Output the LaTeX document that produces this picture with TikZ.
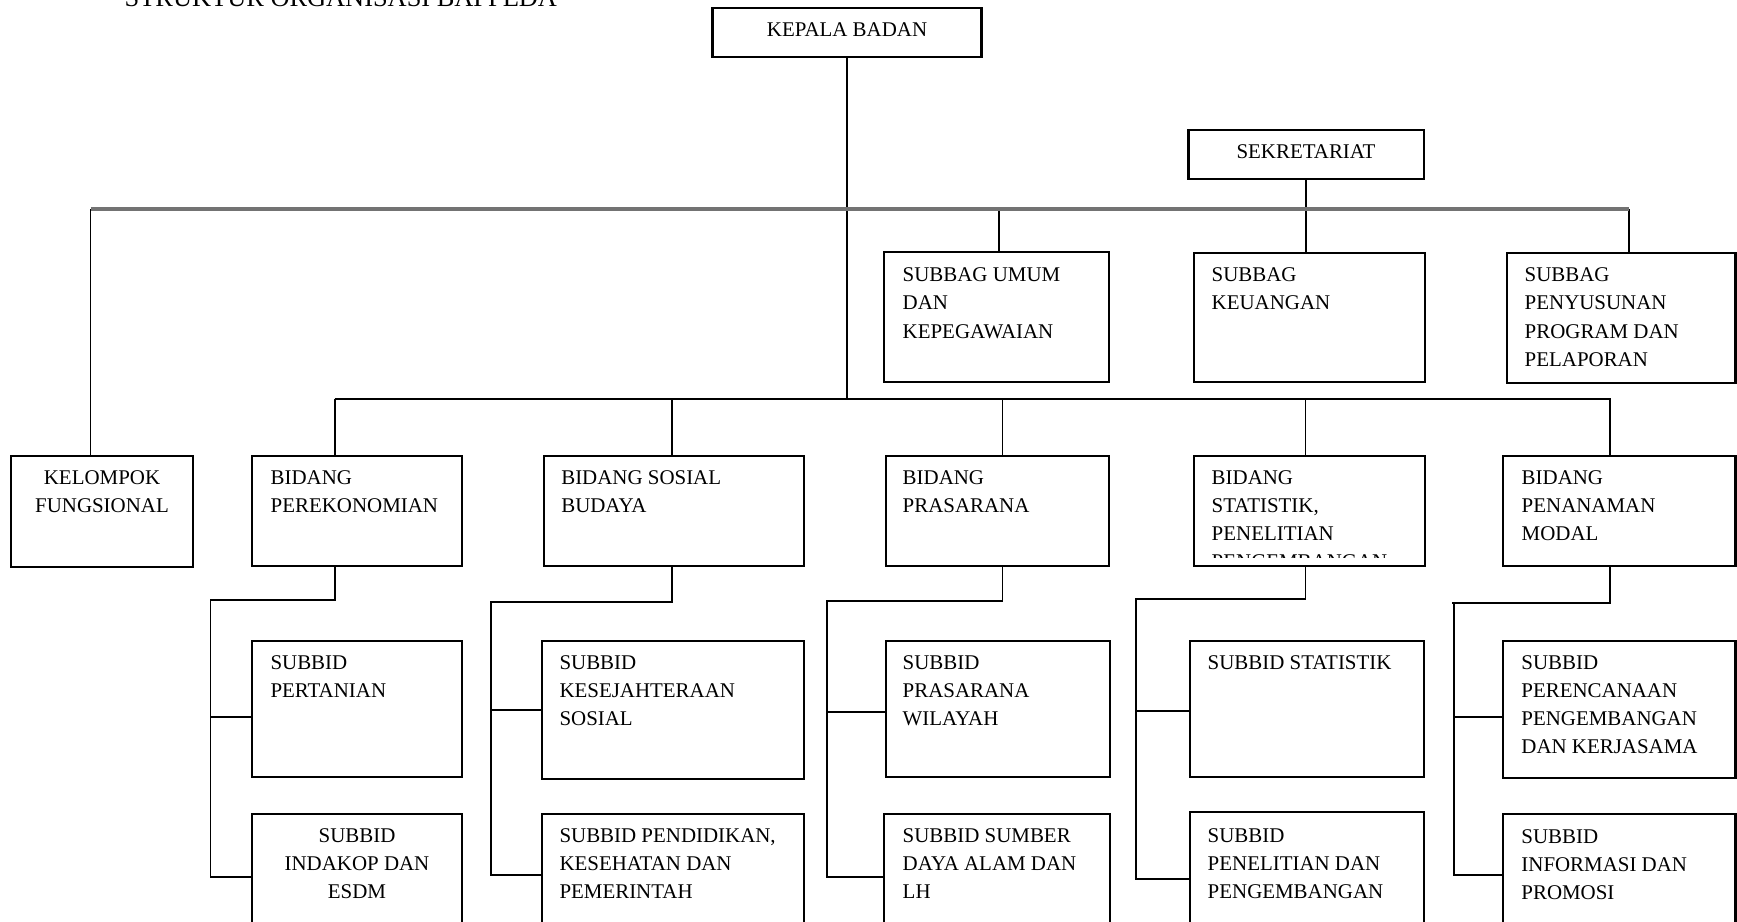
\documentclass[tikz,border=0pt]{standalone}
\usepackage{fontspec}
\setmainfont{Liberation Serif}
\newcommand\bx[5]{\node[box, minimum width={(#4-#2)*0.01cm}, minimum height={(#5-#3)*0.01cm}] (#1) at ({(#2+#4)/2},{(#3+#5)/2}) {};}
\begin{document}
\begin{tikzpicture}[x=0.01cm,y=-0.01cm,
  box/.style={draw, line width=0.6pt, rectangle, inner sep=0pt, outer sep=0pt},
  txt/.style={inner sep=0pt, font=\fontsize{5.95}{8.02}\selectfont},
  lft/.style={txt, align=left, anchor=base west},
  ctr/.style={txt, align=center, anchor=base},
  conn/.style={line width=0.5pt},
  mainline/.style={line width=1pt, draw=black!55}]
\clip (0,0) rectangle (1737,921);
\node[inner sep=0pt, font=\fontsize{7.5}{9}\selectfont, anchor=base west] (title) at (124,6) {STRUKTUR ORGANISASI BAPPEDA};

% boxes
\bx{kb}{712.5}{8.3}{981.5}{57}
\bx{sek}{1188.5}{130}{1424}{179}
\bx{sumum}{884}{251.7}{1109.4}{381.7}
\bx{skeu}{1194}{253}{1425}{381.7}
\bx{spen}{1507}{253}{1735.5}{383}
\bx{kf}{11}{455.7}{193}{566.7}
\bx{bper}{252}{456}{462}{566}
\bx{bsos}{544}{456}{803.6}{566}
\bx{bpras}{886}{456}{1109.4}{566}
\bx{bstat}{1194}{456}{1425}{566}
\bx{bpm}{1503}{456}{1735.5}{566}
\bx{sper}{252}{640.7}{461.6}{776.7}
\bx{sind}{252}{814.3}{461.6}{960}
\bx{skes}{542.4}{640.7}{803.7}{779}
\bx{spend}{542.4}{814.3}{803.7}{960}
\bx{sprw}{885.9}{640.7}{1109.6}{776.7}
\bx{ssda}{884}{814.3}{1109.6}{960}
\bx{sstat}{1190.3}{640.7}{1423.6}{776.7}
\bx{spel}{1190.3}{812.3}{1423.6}{960}
\bx{sperc}{1503.3}{640.7}{1735.5}{778.3}
\bx{sinf}{1503.3}{814.3}{1735.5}{960}

% texts (anchored at the baseline of their last line)
\node[ctr] (kb-t) at (847,36) {KEPALA BADAN};
\node[ctr] (sek-t) at (1306,158) {SEKRETARIAT};
\node[lft] (sumum-t) at (902,338.1) {SUBBAG UMUM\\DAN\\KEPEGAWAIAN};
\node[lft] (skeu-t) at (1211,309.9) {SUBBAG\\KEUANGAN};
\node[lft] (spen-t) at (1524,366.3) {SUBBAG\\PENYUSUNAN\\PROGRAM DAN\\PELAPORAN};
\node[ctr] (kf-t) at (102,512.2) {KELOMPOK\\FUNGSIONAL};
\node[lft] (bper-t) at (270,512.2) {BIDANG\\PEREKONOMIAN};
\node[lft] (bsos-t) at (560.6,512.2) {BIDANG SOSIAL\\BUDAYA};
\node[lft] (bpras-t) at (902,512.2) {BIDANG\\PRASARANA};
\begin{scope}
\clip (1194,456) rectangle (1425,557);
\node[lft] (bstat-t) at (1211,568.6) {BIDANG\\STATISTIK,\\PENELITIAN\\PENGEMBANGAN};
\end{scope}
\node[lft] (bpm-t) at (1521,540.4) {BIDANG\\PENANAMAN\\MODAL};
\node[lft] (sper-t) at (269.8,697.2) {SUBBID\\PERTANIAN};
\node[ctr] (sind-t) at (357,898.4) {SUBBID\\INDAKOP DAN\\ESDM};
\node[lft] (skes-t) at (558.8,725.4) {SUBBID\\KESEJAHTERAAN\\SOSIAL};
\node[lft] (spend-t) at (558.8,898.4) {SUBBID PENDIDIKAN,\\KESEHATAN DAN\\PEMERINTAH};
\node[lft] (sprw-t) at (902,725.4) {SUBBID\\PRASARANA\\WILAYAH};
\node[lft] (ssda-t) at (902,898.4) {SUBBID SUMBER\\DAYA ALAM DAN\\LH};
\node[lft] (sstat-t) at (1207,669) {SUBBID STATISTIK};
\node[lft] (spel-t) at (1207,898.4) {SUBBID\\PENELITIAN DAN\\PENGEMBANGAN};
\node[lft] (sperc-t) at (1520.7,753.6) {SUBBID\\PERENCANAAN\\PENGEMBANGAN\\DAN KERJASAMA};
\node[lft] (sinf-t) at (1520.7,899.4) {SUBBID\\INFORMASI DAN\\PROMOSI};

% junction coordinates
\coordinate (j1L) at (90.5,209);
\coordinate (j1R) at (1629,209);
\coordinate (j1U) at (999,209);
\coordinate (j2L) at (334.6,399);
\coordinate (j2R) at (1611,399);
\coordinate (d1) at (335,399);
\coordinate (d2) at (672,399);
\coordinate (d3) at (1002.5,399);
\coordinate (d4) at (1305.5,399);
\coordinate (d5) at (1610,399);

% upper connectors
\draw[conn] (kb.south) -- (kb.south |- j2L);
\draw[conn] (sek.south) -- (sek.south |- skeu.north);
\draw[conn] (kf.north -| j1L) -- (j1L);
\draw[conn] (j1R) -- (spen.north -| j1R);
\draw[conn] (j1U) -- (sumum.north -| j1U);
\draw[mainline] (j1L) -- (j1R);
\draw[conn] (j2L) -- (j2R);
\draw[conn] (d1) -- (d1 |- bper.north);
\draw[conn] (d2) -- (d2 |- bsos.north);
\draw[conn] (d3) -- (d3 |- bpras.north);
\draw[conn] (d4) -- (d4 |- bstat.north);
\draw[conn] (d5) -- (d5 |- bpm.north);

% branch 1
\coordinate (s1t) at (210.6,600);
\coordinate (s1a) at (210.6,716.7);
\coordinate (s1b) at (210.6,876.7);
\draw[conn] (d1 |- bper.south) |- (s1t) -- (s1b) -- (s1b -| sind.west);
\draw[conn] (s1a) -- (s1a -| sper.west);
% branch 2
\coordinate (s2t) at (491,601.7);
\coordinate (s2a) at (491,710);
\coordinate (s2b) at (491,875);
\draw[conn] (d2 |- bsos.south) |- (s2t) -- (s2b) -- (s2b -| spend.west);
\draw[conn] (s2a) -- (s2a -| skes.west);
% branch 3
\coordinate (s3t) at (827.3,601);
\coordinate (s3a) at (827.3,712);
\coordinate (s3b) at (827.3,876.7);
\draw[conn] (d3 |- bpras.south) |- (s3t) -- (s3b) -- (s3b -| ssda.west);
\draw[conn] (s3a) -- (s3a -| sprw.west);
% branch 4
\coordinate (s4t) at (1136,598.7);
\coordinate (s4a) at (1136,710.7);
\coordinate (s4b) at (1136,879);
\draw[conn] (d4 |- bstat.south) |- (s4t) -- (s4b) -- (s4b -| spel.west);
\draw[conn] (s4a) -- (s4a -| sstat.west);
% branch 5
\coordinate (s5t) at (1452,602.7);
\coordinate (s5a) at (1454,716.7);
\coordinate (s5b) at (1454,875);
\draw[conn] (d5 |- bpm.south) |- (s5t);
\draw[conn] (s5t -| s5a) -- (s5b) -- (s5b -| sinf.west);
\draw[conn] (s5a) -- (s5a -| sperc.west);
\end{tikzpicture}
\end{document}
